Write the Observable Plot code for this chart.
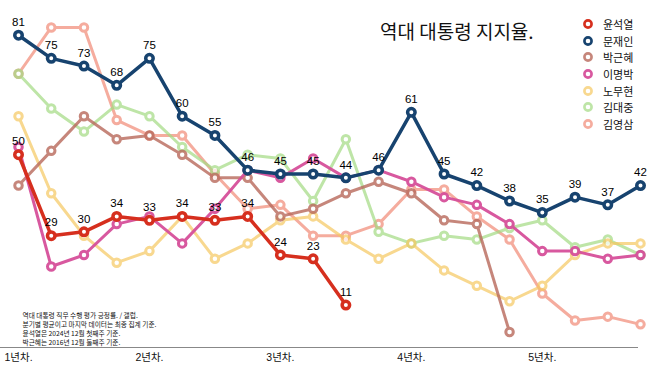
<!DOCTYPE html>
<html><head><meta charset="utf-8">
<script src="https://cdn.jsdelivr.net/npm/d3@7"></script>
<script src="https://cdn.jsdelivr.net/npm/@observablehq/plot@0.6"></script>
<style>
body{margin:0;background:#fff;}
#wrap{position:relative;width:658px;height:370px;}
#title{position:absolute;left:380px;top:21px;font-size:19px;line-height:19px;color:#111;white-space:nowrap;font-family:"Noto Sans CJK KR",sans-serif;}
#legend{position:absolute;left:582px;top:16px;font-family:"Noto Sans CJK KR",sans-serif;font-size:11px;color:#111;}
.row{display:flex;align-items:center;height:16.6px;}
.row span{margin-left:9px;line-height:12px;}
</style></head><body><div id="wrap"></div>
<script>
const names = ["윤석열","문재인","박근혜","이명박","노무현","김대중","김영삼"];
const yoon  = [50,29,30,34,33,34,33,34,24,23,11];
const moon  = [81,75,73,68,75,60,55,46,45,45,44,46,61,45,42,38,35,39,37,42];
const park  = [42,51,60,54,55,50,44,44,34,36,40,43,40,33,32,4];
const lee   = [52,21,24,32,34,27,36,46,44,49,44,46,43,39,37,32,25,25,23,24];
const roh   = [60,40,29,22,25,34,23,27,33,34,28,23,27,20,16,12,16,24,27,27];
const kimdj = [71,62,56,63,60,52,46,50,49,38,54,30,27,29,28,31,33,26,28,24];
const kimys = [71,83,83,59,55,55,45,36,37,29,29,32,41,41,34,28,14,7,8,6];
const tickIdx = [0,4,8,12,16];
const xLabels = ["1년차.","2년차.","3년차.","4년차.","5년차."];
const title = "역대 대통령 지지율.";
const captionLines = ["역대 대통령 직무 수행 평가 긍정률. / 갤럽.","분기별 평균이고 마지막 데이터는 최종 집계 기준.","윤석열은 2024년 12월 첫째주 기준.","박근혜는 2016년 12월 둘째주 기준."];

const seriesVals = [yoon, moon, park, lee, roh, kimdj, kimys];
const colors = ["#d62f1e","#17436f","#b8695b","#d6509a","#f6c860","#a3db83","#f18a76"];
const opac   = [1,1,0.8,0.95,0.7,0.7,0.7];
const lw     = [3.5,3.5,3,3,3,3,3];
const drawOrder = [6,5,4,2,3,1,0];
const labeled = [0,1];

const marks = [];
marks.push(Plot.ruleY([0], {stroke:"#888", strokeWidth:1}));
marks.push(Plot.axisX({ticks: tickIdx, tickFormat: d => xLabels[tickIdx.indexOf(d)], tickSize:0, tickPadding:6, label:null, fontSize:10.5, fontFamily:'"Liberation Sans","Noto Sans CJK KR",sans-serif'}));
marks.push(Plot.text([captionLines.join("\n")], {frameAnchor:"bottom-left", dx:22, dy:-3, textAnchor:"start", lineAnchor:"bottom", fontSize:6.7, lineHeight:1.34, fontFamily:'"Noto Sans CJK KR",sans-serif', fill:"#111"}));
for (const k of drawOrder) {
  const rows = seriesVals[k].map((v,i)=>({q:i, v}));
  marks.push(Plot.line(rows, {x:"q", y:"v", stroke:colors[k], strokeWidth:lw[k]}));
  marks.push(Plot.dot(rows, {x:"q", y:"v", r:3.75, fill:"white", stroke:colors[k], strokeWidth:lw[k]}));
}
for (const k of labeled) {
  const rows = seriesVals[k].map((v,i)=>({q:i, v}));
  marks.push(Plot.text(rows, {x:"q", y:"v", text: d => String(d.v), dy:-13, fontSize:11.5, fill:"#000", fontFamily:'"Liberation Sans",sans-serif'}));
}

const svg = Plot.plot({
  width:658, height:370,
  marginLeft:0, marginRight:20, marginTop:0, marginBottom:23,
  style:{background:"white", color:"#111", fontFamily:'"Liberation Sans","Noto Sans CJK KR",sans-serif'},
  x:{domain:[0,19], range:[18,640], label:null},
  y:{domain:[0,90], axis:null},
  marks
});

const ns = "http://www.w3.org/2000/svg";
const lines = svg.querySelectorAll('g[aria-label="line"]');
const dots = svg.querySelectorAll('g[aria-label="dot"]');
drawOrder.forEach((k,j)=>{
  const g = document.createElementNS(ns,"g");
  g.setAttribute("opacity", opac[k]);
  lines[j].parentNode.insertBefore(g, lines[j]);
  g.appendChild(lines[j]);
  g.appendChild(dots[j]);
});

const wrap = document.getElementById("wrap");
wrap.appendChild(svg);
const t = document.createElement("div");
t.id = "title"; t.textContent = title;
wrap.appendChild(t);
const leg = document.createElement("div");
leg.id = "legend";
names.forEach((n,k)=>{
  const row = document.createElement("div");
  row.className = "row";
  row.innerHTML = `<svg width="12" height="12" style="opacity:${opac[k]}"><circle cx="6" cy="6" r="3.6" fill="white" stroke="${colors[k]}" stroke-width="2.6"/></svg><span>${n}</span>`;
  leg.appendChild(row);
});
wrap.appendChild(leg);
</script></body></html>
